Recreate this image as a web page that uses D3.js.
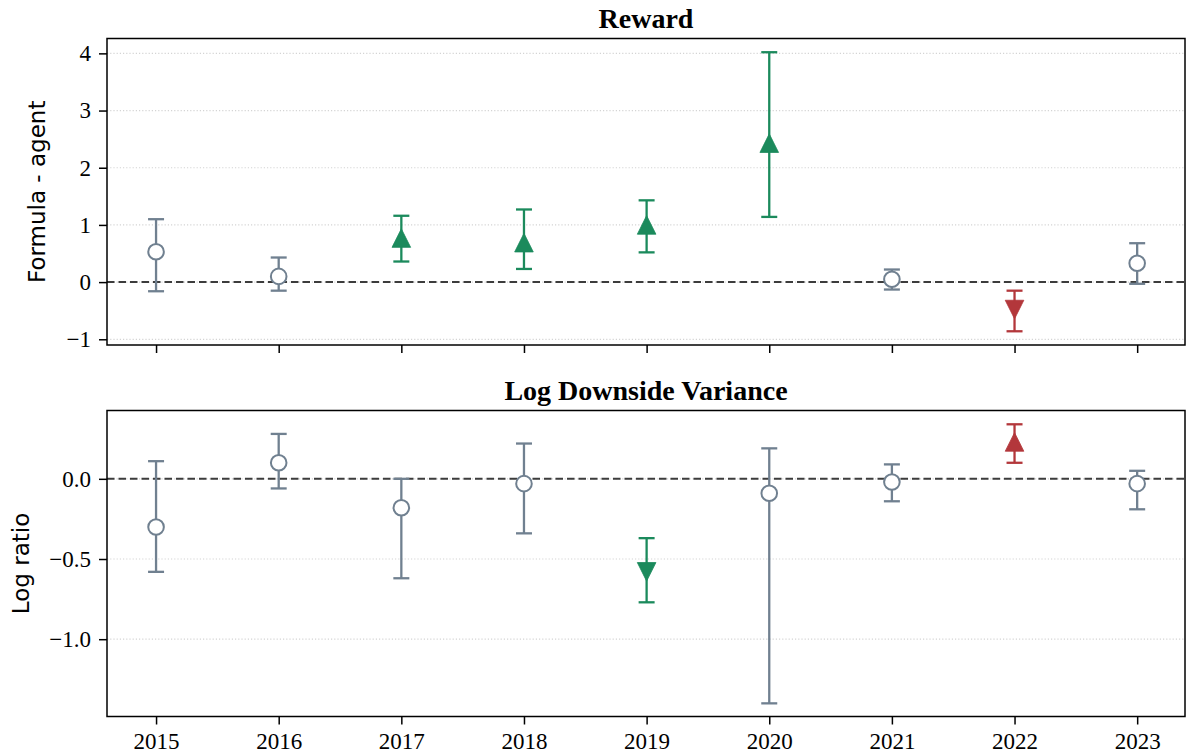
<!DOCTYPE html>
<html lang="en">
<head>
<meta charset="UTF-8">
<title>Reward and Log Downside Variance by year</title>
<script src="https://d3js.org/d3.v7.min.js"></script>
<style>
  body { margin: 0; background: #ffffff; }
  .tick text { font-family: "Liberation Serif", "Times New Roman", serif; font-size: 23px; fill: #000; }
  .title { font-family: "Liberation Serif", "Times New Roman", serif; font-size: 28px; font-weight: bold; text-anchor: middle; }
  .ylabel { font-family: "DejaVu Sans", sans-serif; font-size: 23px; text-anchor: middle; }
</style>
</head>
<body>
<svg width="1186" height="755"></svg>
<script>
// data
var years = [2015, 2016, 2017, 2018, 2019, 2020, 2021, 2022, 2023];

var rewardMean = [0.53, 0.10, 0.77, 0.69, 1.00, 2.43, 0.05, -0.48, 0.33];
var rewardLow  = [-0.16, -0.15, 0.36, 0.23, 0.52, 1.14, -0.13, -0.86, -0.03];
var rewardHigh = [1.10, 0.43, 1.16, 1.27, 1.43, 4.02, 0.22, -0.15, 0.68];
var rewardMarker = ["o", "o", "^", "^", "^", "^", "o", "v", "o"];
var rewardTone   = ["ns", "ns", "good", "good", "good", "good", "ns", "bad", "ns"];
var rewardTicks  = [-1, 0, 1, 2, 3, 4];

var ldvMean = [-0.30, 0.10, -0.18, -0.03, -0.58, -0.09, -0.02, 0.23, -0.03];
var ldvLow  = [-0.58, -0.06, -0.62, -0.34, -0.77, -1.40, -0.14, 0.10, -0.19];
var ldvHigh = [0.11, 0.28, 0.00, 0.22, -0.37, 0.19, 0.09, 0.34, 0.05];
var ldvMarker = ["o", "o", "o", "o", "v", "o", "o", "^", "o"];
var ldvTone   = ["ns", "ns", "ns", "ns", "good", "ns", "ns", "bad", "ns"];
var ldvTicks  = [-1.0, -0.5, 0.0];

var toneColor = { ns: "#708090", good: "#1b8a5c", bad: "#b3373b" };

var svg = d3.select("svg");
var left = 107, right = 1185;

var x = d3.scaleLinear().domain([2014.6, 2023.39]).range([left, right]);

var panels = [
  { title: "Reward", ylabel: "Formula - agent", top: 38.5, bottom: 345,
    domain: [-1.1, 4.26], ticks: rewardTicks, fmt: d3.format("d"),
    mean: rewardMean, low: rewardLow, high: rewardHigh, marker: rewardMarker, tone: rewardTone,
    labelX: 37, showX: false },
  { title: "Log Downside Variance", ylabel: "Log ratio", top: 410.5, bottom: 716.5,
    domain: [-1.482, 0.426], ticks: ldvTicks, fmt: d3.format(".1f"),
    mean: ldvMean, low: ldvLow, high: ldvHigh, marker: ldvMarker, tone: ldvTone,
    labelX: 21, showX: true }
];

panels.forEach(function(p) {
  var y = d3.scaleLinear().domain(p.domain).range([p.bottom, p.top]);
  var g = svg.append("g");

  // dotted horizontal grid
  g.selectAll(".grid").data(p.ticks).join("line")
    .attr("x1", left).attr("x2", right)
    .attr("y1", d => y(d)).attr("y2", d => y(d))
    .attr("stroke", "#d4d4d4").attr("stroke-width", 1.2)
    .attr("stroke-dasharray", "1.2,2");

  // zero reference
  g.append("line")
    .attr("x1", left).attr("x2", right)
    .attr("y1", y(0)).attr("y2", y(0))
    .attr("stroke", "#3c3c3c").attr("stroke-width", 2)
    .attr("stroke-dasharray", "7.5,4");

  // axes
  var yAxis = d3.axisLeft(y).tickValues(p.ticks).tickFormat(p.fmt).tickSize(8).tickPadding(8);
  var ga = g.append("g").attr("transform", "translate(" + left + ",0)").call(yAxis);
  ga.select(".domain").remove();
  ga.selectAll(".tick line").attr("stroke-width", 1.5);

  var xAxis = d3.axisBottom(x).tickValues(years).tickFormat(p.showX ? d3.format("d") : "").tickSize(8).tickPadding(8);
  var gx = g.append("g").attr("transform", "translate(0," + p.bottom + ")").call(xAxis);
  gx.select(".domain").remove();
  gx.selectAll(".tick line").attr("stroke-width", 1.5);

  // frame
  g.append("rect")
    .attr("x", left).attr("y", p.top)
    .attr("width", right - left).attr("height", p.bottom - p.top)
    .attr("fill", "none").attr("stroke", "#000").attr("stroke-width", 1.5);

  var pts = years.map(function(yr, i) {
    return { yr: yr, m: p.mean[i], lo: p.low[i], hi: p.high[i], mk: p.marker[i], c: toneColor[p.tone[i]] };
  });

  // error bars
  var eb = g.selectAll(".eb").data(pts).join("g");
  eb.append("line")
    .attr("x1", d => x(d.yr)).attr("x2", d => x(d.yr))
    .attr("y1", d => y(d.lo)).attr("y2", d => y(d.hi))
    .attr("stroke", d => d.c).attr("stroke-width", 2.3);
  eb.selectAll(".cap").data(d => [{ d: d, v: d.lo }, { d: d, v: d.hi }]).join("line")
    .attr("x1", e => x(e.d.yr) - 8).attr("x2", e => x(e.d.yr) + 8)
    .attr("y1", e => y(e.v)).attr("y2", e => y(e.v))
    .attr("stroke", e => e.d.c).attr("stroke-width", 2.3);

  // markers
  pts.forEach(function(d) {
    var cx = x(d.yr), cy = y(d.m);
    if (d.mk === "o") {
      g.append("circle").attr("cx", cx).attr("cy", cy).attr("r", 7.8)
        .attr("fill", "#fff").attr("stroke", d.c).attr("stroke-width", 2);
    } else {
      var s = 9.3, dir = d.mk === "^" ? -1 : 1;
      var path = d3.path();
      path.moveTo(cx, cy + dir * s);
      path.lineTo(cx - s, cy - dir * s);
      path.lineTo(cx + s, cy - dir * s);
      path.closePath();
      g.append("path").attr("d", path.toString())
        .attr("fill", d.c).attr("stroke", d.c).attr("stroke-width", 0.8);
    }
  });

  // title and y label
  svg.append("text").attr("class", "title")
    .attr("x", (left + right) / 2).attr("y", p.top - 11)
    .text(p.title);
  svg.append("text").attr("class", "ylabel")
    .attr("transform", "translate(" + p.labelX + "," + ((p.top + p.bottom) / 2) + ") rotate(-90)")
    .attr("dy", "0.35em")
    .text(p.ylabel);
});
</script>
</body>
</html>
